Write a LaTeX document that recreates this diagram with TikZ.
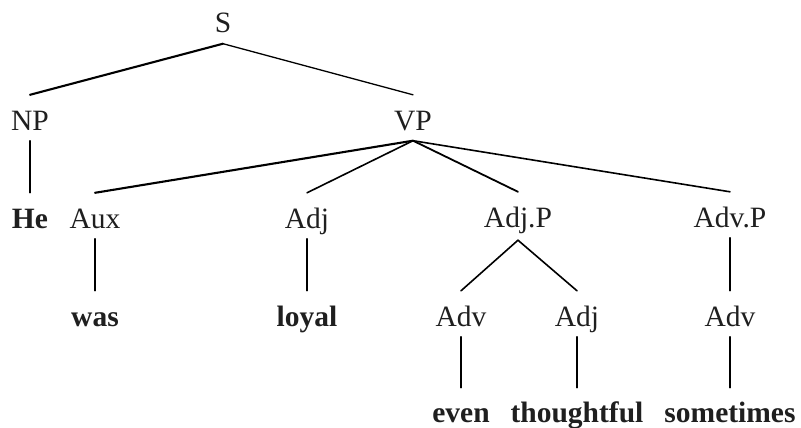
\documentclass[tikz,border=0pt]{standalone}
\usepackage{fontspec}
\setmainfont{Liberation Serif}
\begin{document}
\begin{tikzpicture}[x=1pt,y=-1pt,
  lab/.style={anchor=base,inner sep=0pt,text height=35pt,text depth=10.5pt,font=\fontsize{29.5}{31}\selectfont,text=black!88},
  wrd/.style={lab,font=\fontsize{29.5}{31}\selectfont\bfseries},
  br/.style={line width=1.3pt,line cap=round},
  brt/.style={line width=2.1pt,line cap=round}]
\useasboundingbox (0,0) rectangle (801,428);
% labels
\node[lab] (S) at (223,33) {S};
\node[lab] (NP) at (30,130) {NP};
\node[lab] (VP) at (413,130) {VP};
\node[wrd] (He) at (30,228) {He};
\node[lab] (Aux) at (95,228) {Aux};
\node[lab] (Adj1) at (307,228) {Adj};
\node[lab,text depth=13pt] (AdjP) at (518,227) {Adj.P};
\node[lab] (AdvP) at (730,227) {Adv.P};
\node[wrd] (was) at (95,326) {was};
\node[wrd] (loyal) at (307,326) {loyal};
\node[lab] (Adv1) at (461,326) {Adv};
\node[lab] (Adj2) at (577,326) {Adj};
\node[lab] (Adv2) at (730,326) {Adv};
\node[wrd,text height=34pt] (even) at (461,422) {even};
\node[wrd,text height=34pt] (thoughtful) at (577,422) {thoughtful};
\node[wrd,text height=34pt] (sometimes) at (730,422) {sometimes};
% branches
\draw[brt] (S.south) -- (NP.north);
\draw[br] (S.south) -- (VP.north);
\draw[br] (NP.south) -- (He.north);
\draw[brt] (VP.south) -- (Aux.north);
\draw[br,line width=1.6pt] (VP.south) -- (Adj1.north);
\draw[br,line width=1.8pt] (VP.south) -- (AdjP.north);
\draw[br,line width=1.6pt] (VP.south) -- (AdvP.north);
\draw[br] (Aux.south) -- (was.north);
\draw[br] (Adj1.south) -- (loyal.north);
\draw[br,line width=1.6pt] (AdjP.south) -- (Adv1.north);
\draw[br,line width=1.6pt] (AdjP.south) -- (Adj2.north);
\draw[br] (AdvP.south) -- (Adv2.north);
\draw[br] (Adv1.south) -- (even.north);
\draw[br] (Adj2.south) -- (thoughtful.north);
\draw[br] (Adv2.south) -- (sometimes.north);
\end{tikzpicture}
\end{document}
